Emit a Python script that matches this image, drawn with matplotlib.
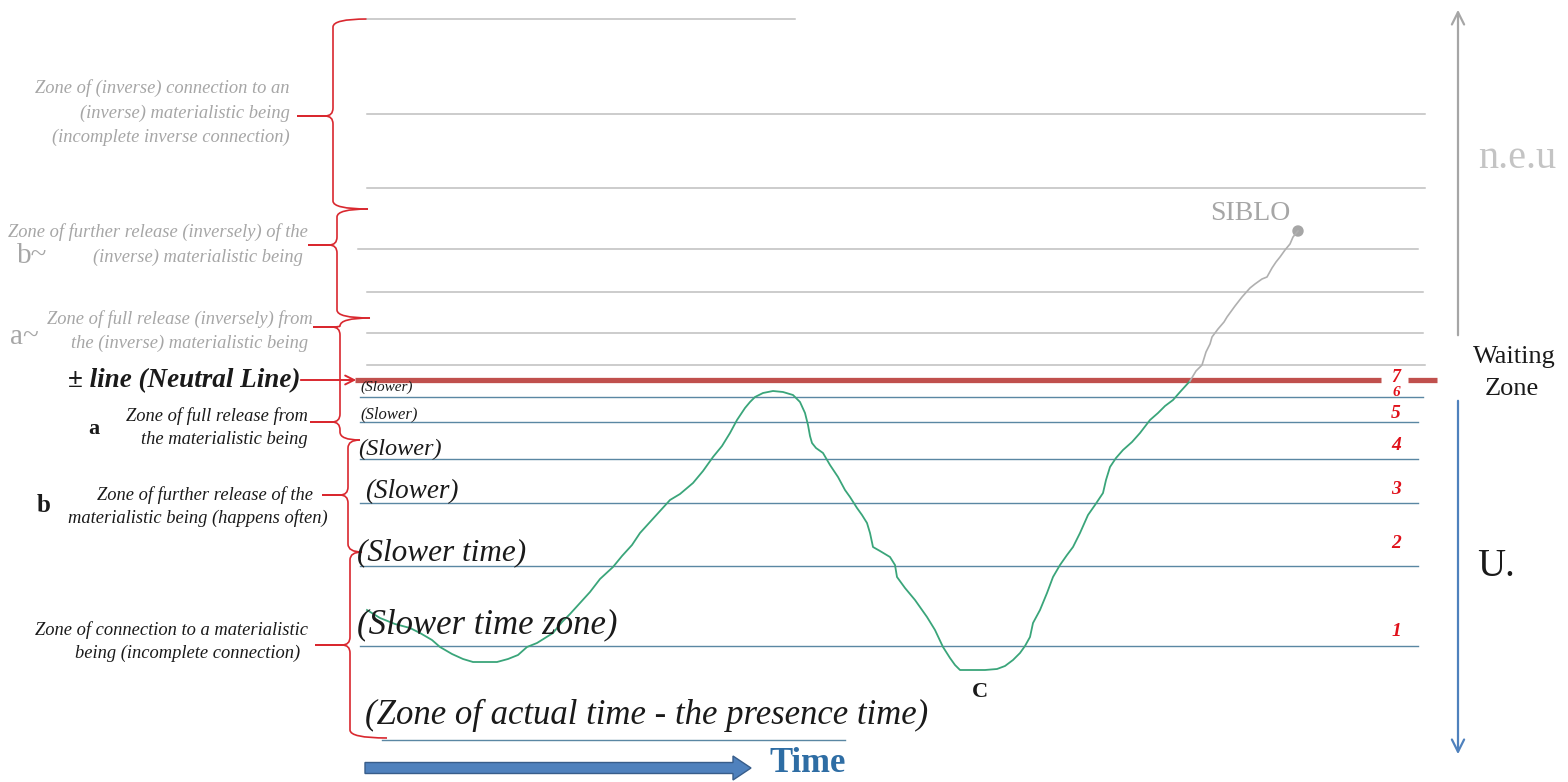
import matplotlib.pyplot as plt
from matplotlib.path import Path
from matplotlib.patches import PathPatch, FancyArrow, Circle

plt.rcParams['font.family'] = ['Liberation Serif', 'DejaVu Serif']

W, H = 1568, 782

# zone lines above the neutral line (grey) - pixel rows of the diagram
grey_y = [19, 114, 188, 249, 292, 333, 365]
grey_x0 = [367, 367, 367, 358, 367, 367, 367]
grey_x1 = [795, 1425, 1425, 1418, 1423, 1423, 1425]

# zone lines below the neutral line (blue)
blue_y = [397, 422, 459, 503, 566, 646, 740]
blue_x0 = [360, 360, 360, 360, 360, 360, 382]
blue_x1 = [1423, 1418, 1418, 1418, 1418, 1418, 845]

neutral_y = 380

zone_numbers = ['7', '6', '5', '4', '3', '2', '1']
zone_number_y = [378, 392, 413, 445, 490, 544, 631]
zone_number_size = [13, 11, 14, 14, 14, 14, 14]

slower_labels = ['(Slower)', '(Slower)', '(Slower)', '(Slower)', '(Slower time)',
                 '(Slower time zone)', '(Zone of actual time - the presence time)']
slower_x = [360, 360, 358, 365, 357, 357, 365]
slower_y = [387, 414, 449, 492, 553, 625, 715]
slower_size = [11, 12, 17.5, 19.5, 22.5, 25, 25]

# left side zone descriptions (one entry per text line)
grey_desc = ['Zone of (inverse) connection to an', '(inverse) materialistic being',
             '(incomplete inverse connection)',
             'Zone of further release (inversely) of the', '(inverse) materialistic being',
             'Zone of full release (inversely) from', 'the (inverse) materialistic being']
grey_desc_x = [290, 290, 290, 308, 303, 313, 308]
grey_desc_y = [88, 113, 137, 232, 257, 319, 343]

dark_desc = ['Zone of full release from', 'the materialistic being',
             'Zone of connection to a materialistic', 'being (incomplete connection)']
dark_desc_x = [308, 308, 308, 300]
dark_desc_y = [416, 440, 630, 653]

# path of the being: green below the neutral line, grey above it
green_x = [367, 380, 395, 410, 420, 432, 440, 452, 463, 473, 485, 497, 508, 518, 527, 537, 545,
           553, 562, 570, 580, 590, 600, 613, 622, 632, 640, 650, 660, 670, 680, 693, 703, 713,
           722, 730, 737, 745, 750, 755, 763, 773, 783, 793, 800, 805, 808, 810, 812, 816, 823,
           830, 838, 845, 850, 857, 862, 867, 870, 873, 880, 890, 895, 897, 905, 915, 927, 935,
           943, 950, 955, 960, 970, 985, 997, 1005, 1013, 1020, 1025, 1030, 1033, 1040, 1047,
           1053, 1060, 1067, 1073, 1080, 1088, 1095, 1103, 1106, 1110, 1116, 1123, 1132, 1140,
           1150, 1158, 1165, 1173, 1180, 1190]
green_y = [610, 618, 624, 628, 633, 640, 647, 654, 659, 662, 662, 662, 659, 655, 647, 643, 638,
           633, 622, 614, 603, 592, 579, 567, 556, 545, 533, 522, 511, 500, 494, 483, 471, 457,
           446, 433, 420, 408, 402, 397, 393, 391, 392, 395, 402, 413, 425, 436, 443, 448, 453,
           465, 477, 490, 497, 508, 515, 523, 533, 547, 551, 557, 565, 577, 588, 600, 617, 630,
           647, 658, 665, 670, 670, 670, 669, 666, 660, 653, 646, 637, 623, 610, 593, 577, 565,
           555, 547, 533, 515, 505, 493, 480, 467, 458, 450, 442, 433, 420, 413, 406, 400, 392,
           381]
grey_path_x = [1190, 1196, 1202, 1206, 1210, 1212, 1218, 1224, 1227, 1235, 1242, 1250, 1255,
               1262, 1267, 1272, 1276, 1280, 1285, 1290, 1293, 1298]
grey_path_y = [381, 371, 365, 352, 344, 337, 329, 322, 317, 306, 297, 288, 284, 279, 277, 268,
               262, 257, 250, 244, 237, 231]

# red braces: spine x, top, bottom, tip rows, tip ends, top/bottom curl ends
brace_x = [333, 337, 340, 348, 350]
brace_top = [19, 209, 318, 440, 552]
brace_bottom = [209, 318, 440, 552, 738]
brace_tips = [[116], [245], [327, 422], [495], [645]]
brace_tip_x = [[297], [308], [313, 310], [322], [315]]
brace_top_end = [367, 368, 370, 360, 362]
brace_bottom_end = [368, 370, 360, 362, 387]

red = '#d9282f'
grey_line = '#bfbfbf'
blue_line = '#5a87a3'
grey_text = '#a6a6a6'
dark = '#1a1a1a'
desc_size = 13.3


def brace_patch(xs, y0, y1, tips, tipx, x_top, x_bot, r=8):
    verts = [(x_top, y0), (xs, y0), (xs, y0 + r)]
    codes = [Path.MOVETO, Path.CURVE3, Path.CURVE3]
    for ty, tx in zip(tips, tipx):
        if ty - y0 > 2 * r:
            verts += [(xs, ty - r)]
            codes += [Path.LINETO]
        verts += [(xs, ty), (xs - r, ty), (tx, ty), (xs - r, ty), (xs, ty), (xs, ty + r)]
        codes += [Path.CURVE3, Path.CURVE3, Path.LINETO, Path.LINETO,
                  Path.CURVE3, Path.CURVE3]
    verts += [(xs, y1 - r), (xs, y1), (x_bot, y1)]
    codes += [Path.LINETO, Path.CURVE3, Path.CURVE3]
    return PathPatch(Path(verts, codes), fill=False, edgecolor=red, lw=1.2)


fig = plt.figure(figsize=(W / 100, H / 100), dpi=100)
ax = fig.add_axes([0, 0, 1, 1])
ax.set_xlim(0, W)
ax.set_ylim(H, 0)
ax.axis('off')

for y, x0, x1 in zip(grey_y, grey_x0, grey_x1):
    ax.plot([x0, x1], [y, y], color=grey_line, lw=1.1)
for y, x0, x1 in zip(blue_y, blue_x0, blue_x1):
    ax.plot([x0, x1], [y, y], color=blue_line, lw=1.0)

# neutral line
ax.plot([355, 1381], [neutral_y, neutral_y], color='#c0504d', lw=3.8, solid_capstyle='butt')
ax.plot([1408, 1437], [neutral_y, neutral_y], color='#c0504d', lw=3.8, solid_capstyle='butt')

for t, y, s in zip(zone_numbers, zone_number_y, zone_number_size):
    ax.text(1396, y, t, color='#e0101a', fontsize=s, fontstyle='italic', fontweight='bold',
            ha='center', va='center')

for t, x, y, s in zip(slower_labels, slower_x, slower_y, slower_size):
    ax.text(x, y, t, fontsize=s, fontstyle='italic', color=dark, ha='left', va='center')

for t, x, y in zip(grey_desc, grey_desc_x, grey_desc_y):
    ax.text(x, y, t, fontsize=desc_size, fontstyle='italic', color=grey_text, ha='right',
            va='center')
for t, x, y in zip(dark_desc, dark_desc_x, dark_desc_y):
    ax.text(x, y, t, fontsize=desc_size, fontstyle='italic', color=dark, ha='right', va='center')
ax.text(205, 495, 'Zone of further release of the', fontsize=desc_size, fontstyle='italic',
        color=dark, ha='center', va='center')
ax.text(198, 518, 'materialistic being (happens often)', fontsize=desc_size, fontstyle='italic',
        color=dark, ha='center', va='center')

ax.text(17, 256, 'b~', fontsize=21, color=grey_text, ha='left', va='center')
ax.text(10, 337, 'a~', fontsize=21, color=grey_text, ha='left', va='center')
ax.text(88, 429, 'a', fontsize=16, fontweight='bold', color=dark, ha='left', va='center')
ax.text(37, 506, 'b', fontsize=18, fontweight='bold', color=dark, ha='left', va='center')
ax.text(300, 381, '± line (Neutral Line)', fontsize=19.5, fontstyle='italic', fontweight='bold',
        color=dark, ha='right', va='center')
ax.annotate('', xy=(359, neutral_y), xytext=(298, neutral_y),
            arrowprops=dict(arrowstyle='->', color=red, lw=1.4, mutation_scale=16))

for i in range(len(brace_x)):
    ax.add_patch(brace_patch(brace_x[i], brace_top[i], brace_bottom[i], brace_tips[i],
                             brace_tip_x[i], brace_top_end[i], brace_bottom_end[i]))

# path of the being
ax.plot(green_x, green_y, color='#3aa57a', lw=1.3)
ax.plot(grey_path_x, grey_path_y, color='#b0b0b0', lw=1.2)
ax.add_patch(Circle((grey_path_x[-1], grey_path_y[-1]), 5, color='#a6a6a6'))
ax.text(1250, 214, 'SIBLO', fontsize=20, color=grey_text, ha='center', va='center')
ax.text(980, 692, 'C', fontsize=16, fontweight='bold', color=dark, ha='center', va='center')

# right hand arrows
ax.annotate('', xy=(1458, 7), xytext=(1458, 338),
            arrowprops=dict(arrowstyle='->', color='#a6a6a6', lw=1.6, mutation_scale=22))
ax.annotate('', xy=(1458, 757), xytext=(1458, 398),
            arrowprops=dict(arrowstyle='->', color='#4f81bd', lw=1.6, mutation_scale=22))
ax.text(1517, 159, 'n.e.u', fontsize=29, color='#c4c4c4', ha='center', va='center')
ax.text(1514, 357, 'Waiting', fontsize=19, color=dark, ha='center', va='center')
ax.text(1512, 389, 'Zone', fontsize=19, color=dark, ha='center', va='center')
ax.text(1496, 566, 'U.', fontsize=28, color=dark, ha='center', va='center')

# time arrow
ax.add_patch(FancyArrow(365, 768, 368, 0, width=11, head_width=24, head_length=18,
                        length_includes_head=False, facecolor='#4f81bd', edgecolor='#385d8a',
                        lw=1))
ax.text(808, 763, 'Time', fontsize=25, fontweight='bold', color='#2e6da4', ha='center',
        va='center')

fig.savefig('out.png', dpi=100)
